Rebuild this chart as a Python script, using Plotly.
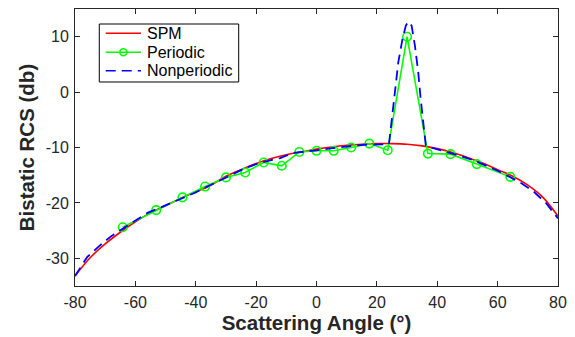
import plotly.graph_objects as go

# SPM (smooth analytic curve, read at 5 degree steps)
spm_angle = [-80, -75, -70, -65, -60, -55, -50, -45, -40, -35, -30, -25, -20, -15, -10, -5,
             0, 5, 10, 15, 20, 25, 30, 35, 40, 45, 50, 55, 60, 65, 70, 75, 80]
spm_rcs = [-33.2, -29.9, -27.4, -25.3, -23.4, -21.8, -20.5, -19.2, -18.0, -16.8, -15.2, -14.0,
           -12.9, -12.0, -11.3, -10.8, -10.3, -9.9, -9.6, -9.4, -9.3, -9.3, -9.4, -9.7, -10.2,
           -10.9, -11.8, -12.8, -14.0, -15.2, -16.8, -19.0, -22.4]

# Periodic (Floquet directions)
per_angle = [-64.2, -53.1, -44.4, -36.9, -30.0, -23.6, -17.5, -11.5, -5.7, 0.0,
             5.7, 11.5, 17.5, 23.6, 30.0, 36.9, 44.4, 53.1, 64.2]
per_rcs = [-24.4, -21.3, -19.0, -17.05, -15.4, -14.5, -12.7, -13.3, -10.8, -10.6,
           -10.6, -10.0, -9.3, -10.5, 10.0, -11.1, -11.2, -13.0, -15.3]

# Nonperiodic
non_angle = [-80, -76, -72, -68, -64, -60, -56, -52, -48, -44, -40, -36, -32, -28, -24, -20,
             -16, -12, -8, -4, 0, 4, 8, 12, 16, 20, 24,
             25.1, 26.0, 27.1, 28.5, 29.6, 30.4, 31.5, 32.6, 33.7, 34.5, 35.4, 36.2,
             38, 40, 44, 48, 52, 56, 60, 64, 68, 72, 76, 80]
non_rcs = [-33.2, -29.8, -27.8, -26.0, -24.6, -23.2, -21.8, -20.9, -20.0, -19.0, -18.1, -17.0,
           -16.0, -14.9, -13.8, -13.0, -12.4, -11.9, -11.0, -10.8, -10.5, -10.2, -9.9, -9.7,
           -9.5, -9.5, -9.4,
           -4.2, 0.6, 5.4, 9.6, 12.0, 12.7, 12.0, 8.4, 3.6, -1.2, -6.0, -9.6,
           -10.0, -10.3, -11.0, -11.6, -12.3, -13.2, -14.2, -15.3, -16.5, -18.0, -20.0, -22.8]

x_ticks = [-80, -60, -40, -20, 0, 20, 40, 60, 80]
x_ticktext = ["-80", "-60", "-40", "-20", "0", "20", "40", "60", "80"]
y_ticks = [-30, -20, -10, 0, 10]
y_ticktext = ["-30", "-20", "-10", "0", "10"]

series_names = ["SPM", "Periodic", "Nonperiodic"]
series_colors = ["#ff0000", "#00ff00", "#0000ff"]

FONT = "Liberation Sans, Arial, Helvetica, sans-serif"
AX = "#262626"
BLUE_DASH = "10px,6px"

fig = go.Figure()
fig.add_trace(go.Scatter(x=spm_angle, y=spm_rcs, mode="lines", name=series_names[0],
                         line=dict(color=series_colors[0], width=1.6, shape="spline")))
fig.add_trace(go.Scatter(x=per_angle, y=per_rcs, mode="lines+markers", name=series_names[1],
                         line=dict(color=series_colors[1], width=1.6),
                         marker=dict(symbol="circle-open", size=8.5, color=series_colors[1],
                                     line=dict(width=1.6, color=series_colors[1]))))
fig.add_trace(go.Scatter(x=non_angle, y=non_rcs, mode="lines", name=series_names[2],
                         line=dict(color=series_colors[2], width=1.8, dash=BLUE_DASH)))

axis_common = dict(showline=True, linecolor=AX, linewidth=1, mirror="ticks",
                   ticks="inside", ticklen=5, tickwidth=1, tickcolor=AX,
                   showgrid=False, zeroline=False, automargin=False,
                   tickfont=dict(family=FONT, size=16, color=AX))

fig.update_xaxes(range=[-80, 80], tickvals=x_ticks, ticktext=x_ticktext,
                 ticklabelstandoff=2,
                 title=dict(text="<b>Scattering Angle (°)</b>", standoff=2,
                            font=dict(family=FONT, size=20.5, color=AX)),
                 **axis_common)
fig.update_yaxes(range=[-35, 15], tickvals=y_ticks, ticktext=y_ticktext,
                 ticklabelstandoff=2,
                 title=dict(text="<b>Bistatic RCS (db)</b>", standoff=5,
                            font=dict(family=FONT, size=20.5, color=AX)),
                 **axis_common)

# MATLAB-style compact legend box (paper coordinates, plot area fractions)
box_x0, box_x1, box_y0, box_y1 = 0.0503, 0.3389, 0.7365, 0.9458
entry_y = [0.9123, 0.8437, 0.7773]
samp_x0, samp_x1, text_x = 0.0636, 0.1366, 0.1449
shapes = [dict(type="rect", xref="paper", yref="paper", x0=box_x0, x1=box_x1,
               y0=box_y0, y1=box_y1, fillcolor="white",
               line=dict(color="#000000", width=1), layer="above")]
annotations = []
for i, (nm, col) in enumerate(zip(series_names, series_colors)):
    dash = BLUE_DASH if i == 2 else "solid"
    shapes.append(dict(type="line", xref="paper", yref="paper", x0=samp_x0, x1=samp_x1,
                       y0=entry_y[i], y1=entry_y[i], line=dict(color=col, width=1.6, dash=dash),
                       layer="above"))
    if i == 1:
        shapes.append(dict(type="circle", xref="paper", yref="paper",
                           xsizemode="pixel", ysizemode="pixel",
                           xanchor=(samp_x0 + samp_x1) / 2, yanchor=entry_y[i],
                           x0=-3.5, x1=3.5, y0=-3.5, y1=3.5,
                           line=dict(color=col, width=1.6), fillcolor="rgba(0,0,0,0)",
                           layer="above"))
    annotations.append(dict(xref="paper", yref="paper", x=text_x, y=entry_y[i],
                            xanchor="left", yanchor="middle", text=nm, showarrow=False,
                            font=dict(family=FONT, size=16, color="#000000")))

# The page body has an 8px margin, so the figure is 8px smaller and margins compensate.
fig.update_layout(
    width=567, height=329,
    margin=dict(l=67, r=17, t=1, b=51),
    paper_bgcolor="white", plot_bgcolor="white",
    font=dict(family=FONT, color=AX),
    showlegend=False,
    shapes=shapes,
    annotations=annotations,
)

fig.write_html("out.html")
